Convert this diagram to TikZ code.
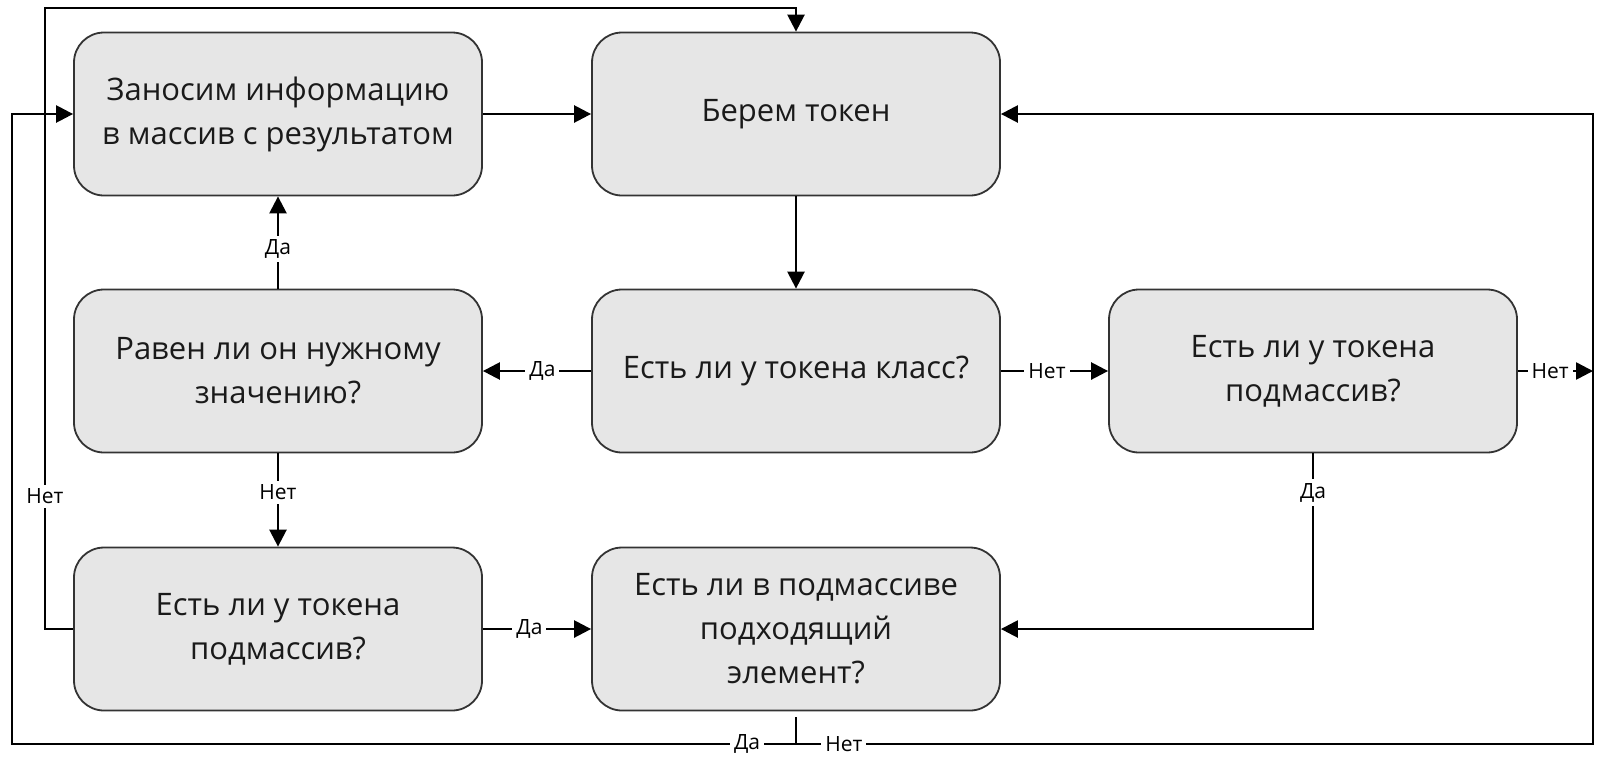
\documentclass[tikz,border=0pt]{standalone}
\usepackage{fontspec}
\setmainfont{Open Sans}
\usetikzlibrary{arrows.meta}
\definecolor{boxgray}{HTML}{E6E6E6}
\definecolor{txt}{HTML}{1A1A1A}
\begin{document}
\begin{tikzpicture}[x=0.5pt,y=-0.5pt,
 box/.style={draw=black!80, line width=0.9pt, fill=boxgray, rounded corners=15pt,
   minimum width=204pt, minimum height=81.5pt, align=center, text=txt,
   font=\fontsize{15.5}{22}\selectfont, inner sep=0pt},
 arr/.style={line width=1.25pt, -{Triangle[length=8.5pt,width=8.5pt]}},
 ln/.style={line width=1.25pt},
 lbl/.style={fill=white, inner sep=2pt, font=\fontsize{10.5}{12}\selectfont}]
\useasboundingbox (0,0) rectangle (1604,756);
\node[box] (A) at (278,114) {Заносим информацию\\в массив с результатом};
\node[box] (B) at (796,114) {Берем токен};
\node[box] (C) at (278,371) {Равен ли он нужному\\значению?};
\node[box] (M) at (796,371) {Есть ли у токена класс?};
\node[box] (D) at (1313,371) {Есть ли у токена\\подмассив?};
\node[box] (F) at (278,629) {Есть ли у токена\\подмассив?};
\node[box] (E) at (796,629) {Есть ли в подмассиве\\подходящий\\элемент?};
\coordinate (tl) at (45,8);
\coordinate (j) at (796,744);
\coordinate (bl) at (12,744);
\coordinate (br) at (1593,744);
\coordinate (rm) at (1593,371);
\draw[arr] (A) -- (B);
\draw[arr] (B) -- (M);
\draw[arr] (M) -- node[lbl,pos=0.45]{Да} (C);
\draw[arr] (M) -- node[lbl,pos=0.43]{Нет} (D);
\draw[arr] (C) -- node[lbl,pos=0.43]{Да} (A);
\draw[arr] (C) -- node[lbl,pos=0.42]{Нет} (F);
\draw[arr] (F) -- node[lbl,pos=0.43]{Да} (E);
\draw[arr] (D.east) -- node[lbl,pos=0.43]{Нет} (rm);
\draw[arr] (D.south) |- node[lbl,pos=0.112]{Да} (E.east);
\draw[arr] (F.west) -| node[lbl,pos=0.607]{Нет} (tl) -| (B.north);
\draw[ln, shorten <=3pt] (E.south) -- (j);
\draw[arr] (j) -- node[lbl,pos=0.0625]{Да} (bl) |- (A.west);
\draw[arr] (j) -- node[lbl,pos=0.06]{Нет} (br) |- (B.east);
\end{tikzpicture}
\end{document}
